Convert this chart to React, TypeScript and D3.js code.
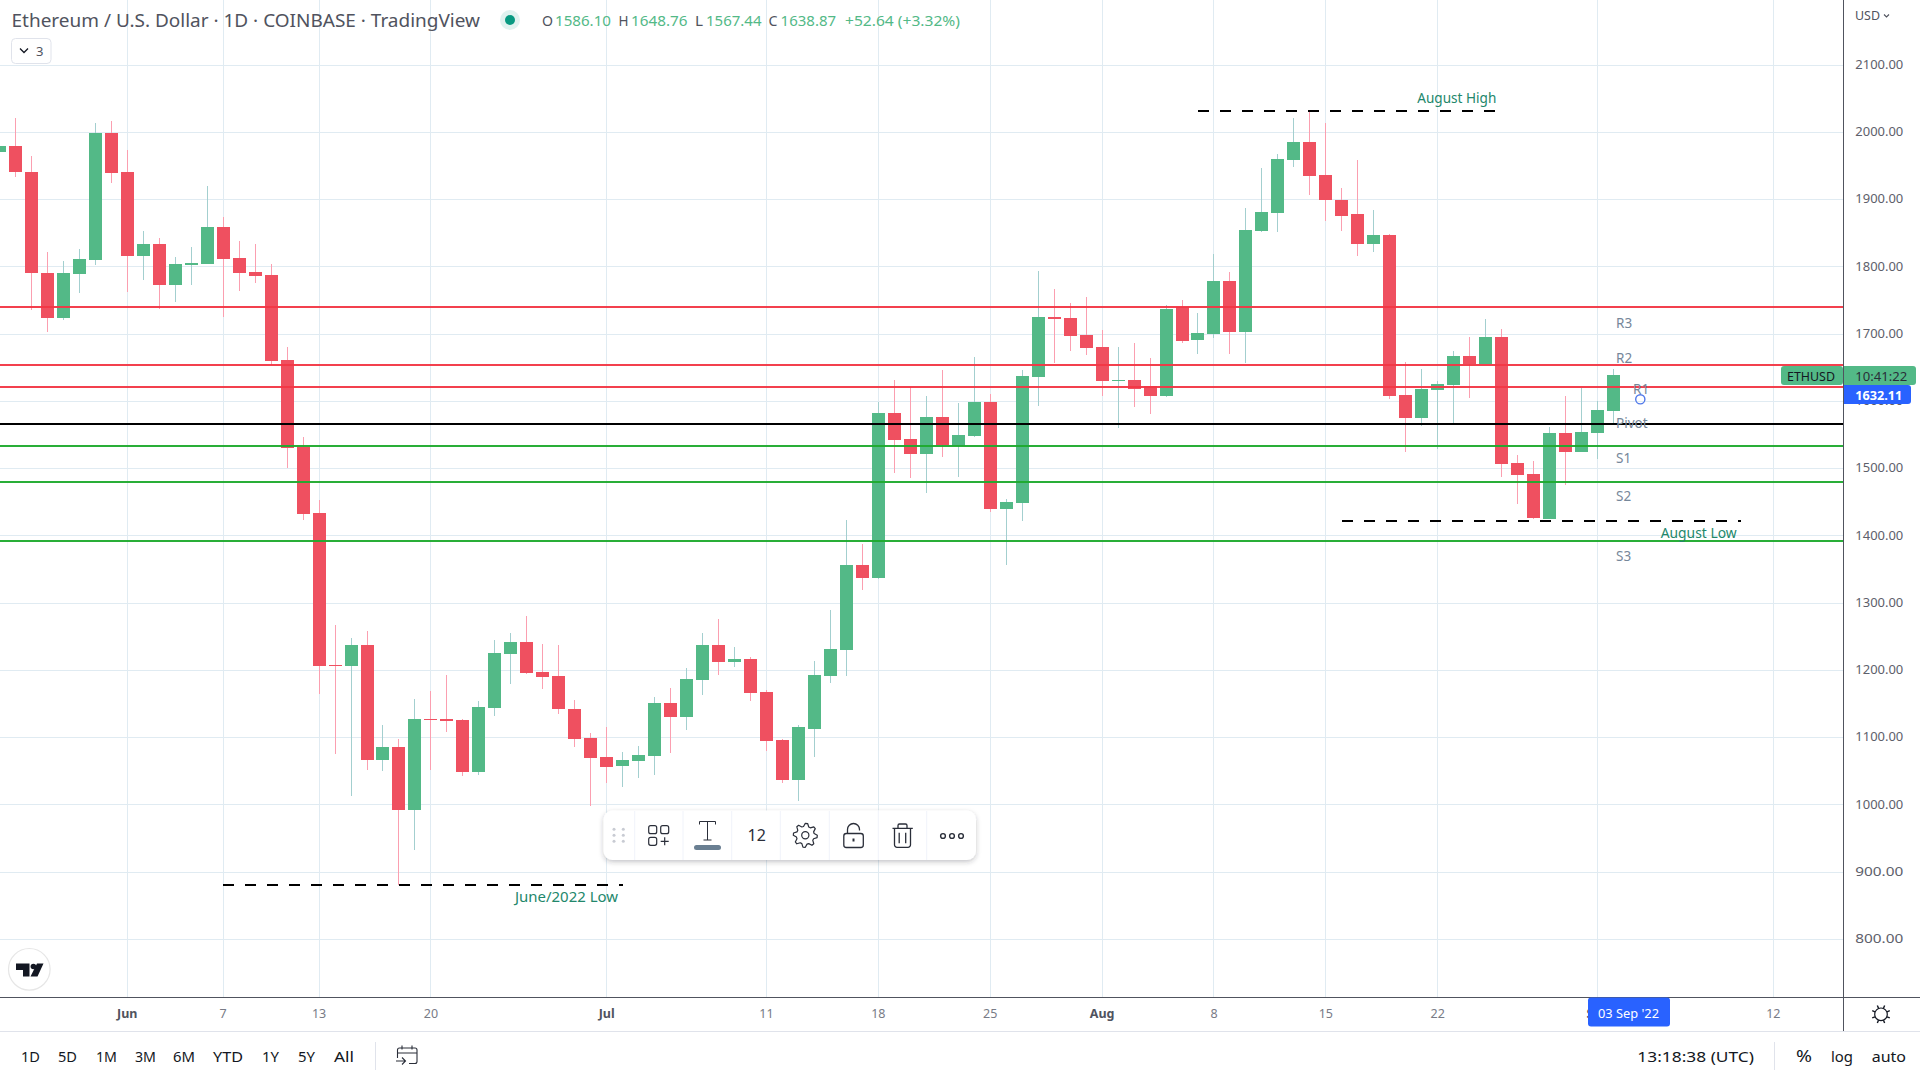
import React from "react";
import * as d3 from "d3";

const firstDay = "2022-05-24";
const opens = [1970.7,1979.6,1941.0,1790.8,1723.8,1789.3,1810.1,1999.0,1941.0,1816.0,1833.9,1772.9,1802.6,1804.1,1859.2,1813.1,1792.3,1787.8,1661.4,1532.5,1433.9,1207.8,1206.3,1237.6,1066.6,1085.9,992.2,1127.5,1127.5,1126.0,1048.7,1143.9,1224.2,1242.0,1197.4,1191.5,1142.4,1099.3,1071.0,1057.6,1065.1,1072.5,1151.3,1130.5,1185.5,1237.6,1212.3,1216.7,1167.7,1096.3,1036.9,1112.7,1191.5,1230.2,1356.6,1337.3,1582.6,1544.0,1521.7,1576.7,1533.6,1548.4,1599.0,1439.9,1448.8,1636.2,1725.4,1723.9,1698.6,1680.8,1630.2,1631.7,1622.8,1607.9,1740.3,1691.2,1700.1,1778.9,1703.0,1853.2,1880.0,1958.8,1985.6,1936.5,1899.3,1878.5,1833.9,1847.3,1609.3,1575.2,1616.8,1624.2,1667.3,1655.4,1695.6,1508.2,1491.8,1424.9,1552.8,1524.6,1552.8,1586.1];
const highs = [1985,2021.3,1964.7,1822.0,1808.6,1826.4,2013.8,2016.8,1973.7,1853.2,1842.8,1814.6,1829.4,1920.1,1874.0,1838.4,1833.9,1804.1,1680.7,1546.9,1453.2,1267.3,1248.0,1258.4,1118.6,1097.8,1157.3,1169.2,1192.9,1127.5,1154.3,1245.0,1255.4,1280.7,1239.1,1237.6,1155.8,1106.7,1115.6,1078.4,1087.4,1160.2,1173.6,1203.4,1255.4,1276.2,1234.6,1219.7,1170.7,1097.8,1118.6,1213.8,1289.7,1423.5,1387.8,1599.0,1632.0,1621.0,1607.9,1646.5,1597.5,1665.9,1610.9,1454.7,1646.6,1793.8,1767.0,1746.2,1755.1,1706.1,1680.8,1686.7,1664.4,1743.2,1750.7,1731.3,1819.1,1792.3,1887.4,1946.9,1967.8,2021.3,2033.2,2013.9,1917.2,1958.8,1884.5,1848.8,1658.4,1648.0,1630.2,1674.8,1695.6,1722.3,1707.5,1520.1,1511.2,1561.7,1607.8,1619.7,1600.4,1648.76];
const lows = [1965,1933.5,1735.7,1703.0,1720.9,1761.0,1802.6,1924.6,1762.5,1780.3,1737.2,1747.6,1772.9,1804.1,1725.3,1764.0,1775.9,1654.0,1500.8,1423.5,1164.7,1075.5,1013.0,1051.7,1050.2,881.0,932.9,1051.7,1108.2,1042.7,1044.2,1132.0,1179.6,1194.4,1172.1,1135.0,1085.9,998.2,1032.3,1026.4,1039.8,1044.2,1077.0,1111.2,1163.2,1193.0,1204.9,1154.3,1080.0,1032.4,1005.7,1071.0,1181.1,1191.5,1319.4,1335.8,1493.4,1486.0,1463.7,1517.2,1487.4,1546.9,1435.4,1356.6,1422.0,1593.0,1657.0,1674.8,1668.9,1607.9,1560.3,1591.6,1581.1,1606.4,1686.7,1670.4,1694.2,1670.4,1656.9,1851.8,1851.8,1948.4,1906.8,1868.1,1853.2,1816.1,1822.0,1603.4,1524.6,1563.3,1529.0,1567.7,1604.9,1655.4,1487.4,1447.2,1424.9,1424.9,1475.5,1524.6,1514.2,1567.44];
const closes = [1979.6,1941.0,1790.8,1723.8,1790.8,1811.6,1999.0,1939.5,1816.0,1833.9,1772.9,1804.1,1805.6,1859.2,1811.6,1790.8,1786.3,1659.9,1530.5,1432.4,1206.3,1206.3,1237.6,1066.6,1085.9,992.2,1127.5,1126.0,1124.5,1048.7,1145.4,1225.7,1242.0,1195.9,1190.0,1142.4,1097.8,1069.5,1056.2,1066.6,1074.0,1151.3,1130.5,1187.0,1237.6,1212.3,1216.7,1166.2,1094.8,1036.9,1115.7,1193.0,1231.7,1356.6,1337.3,1582.6,1542.5,1521.7,1576.7,1535.0,1549.9,1599.0,1439.9,1450.3,1637.7,1725.4,1722.4,1697.1,1679.3,1630.2,1631.7,1618.3,1607.9,1737.3,1689.7,1701.6,1778.9,1703.1,1854.7,1881.5,1960.3,1985.6,1935.0,1899.3,1875.6,1833.9,1847.3,1607.9,1575.2,1618.3,1625.7,1667.3,1655.4,1695.6,1506.7,1490.4,1426.4,1552.8,1524.6,1554.3,1587.0,1638.87];

const priceTicks = [2100,2000,1900,1800,1700,1600,1500,1400,1300,1200,1100,1000,900,800];
const timeTicks = [
  { date: "2022-06-01", label: "Jun", major: true },
  { date: "2022-06-07", label: "7", major: false },
  { date: "2022-06-13", label: "13", major: false },
  { date: "2022-06-20", label: "20", major: false },
  { date: "2022-07-01", label: "Jul", major: true },
  { date: "2022-07-11", label: "11", major: false },
  { date: "2022-07-18", label: "18", major: false },
  { date: "2022-07-25", label: "25", major: false },
  { date: "2022-08-01", label: "Aug", major: true },
  { date: "2022-08-08", label: "8", major: false },
  { date: "2022-08-15", label: "15", major: false },
  { date: "2022-08-22", label: "22", major: false },
  { date: "2022-09-01", label: "Sep", major: true },
  { date: "2022-09-12", label: "12", major: false },
];
const pivotLevels = [
  { price: 1740, color: "#f23645" },
  { price: 1654, color: "#f23645" },
  { price: 1621, color: "#f23645" },
  { price: 1566, color: "#000000" },
  { price: 1533.5, color: "#1eaa2d" },
  { price: 1480, color: "#1eaa2d" },
  { price: 1392, color: "#1eaa2d" },
];
const pivotLabels = [
  { text: "R3", x: 1616, y: 328 },
  { text: "R2", x: 1616, y: 363 },
  { text: "R1", x: 1633, y: 394 },
  { text: "Pivot", x: 1616, y: 428 },
  { text: "S1", x: 1616, y: 463 },
  { text: "S2", x: 1616, y: 501 },
  { text: "S3", x: 1616, y: 561 },
];
const dashedLevels = [
  { price: 2031.7, from: "2022-08-07", to: "2022-08-26" },
  { price: 1422.4, from: "2022-08-16", to: "2022-09-10" },
  { price: 880.7, from: "2022-06-07", to: "2022-07-02" },
];
const rangeButtons = [
  ["1D", 21, 19], ["5D", 58, 19], ["1M", 96, 21], ["3M", 135, 21], ["6M", 173, 22],
  ["YTD", 213, 30], ["1Y", 262, 17], ["5Y", 298, 17], ["All", 334, 20],
];

const FONT = "'Noto Sans', 'Open Sans', sans-serif";
const GRID = "#e0ebf2";
const UP = "#53b987";
const DOWN = "#ef5060";
const UP_WICK = "#a3cfcf";
const DOWN_WICK = "#fb9fb0";

const utc = (s: string) => new Date(s + "T00:00:00Z");
const x = d3.scaleUtc().domain([utc("2022-06-01"), utc("2022-09-12")]).range([127.3, 1773.3]);
const y = d3.scaleLinear().domain([2000, 800]).range([132.3, 939.3]);

const candles = opens.map((o, i) => ({
  date: d3.utcDay.offset(utc(firstDay), i),
  o, h: highs[i], l: lows[i], c: closes[i],
}));

function T({ x: tx, y: ty, w, size = 12, fill = "#787b86", weight = 400, anchor = "start", children }: any) {
  return (
    <text x={tx} y={ty} fontSize={size} fill={fill} fontWeight={weight} textAnchor={anchor} fontFamily={FONT}
      {...(w ? { textLength: w, lengthAdjust: "spacingAndGlyphs" } : {})}>
      {children}
    </text>
  );
}

function gear(cx: number, cy: number, rOut: number, rIn: number, teeth: number) {
  const pts: [number, number][] = [];
  for (let i = 0; i < teeth * 4; i++) {
    const a = (i / (teeth * 4)) * Math.PI * 2;
    const r = i % 4 < 2 ? rOut : rIn;
    pts.push([cx + r * Math.cos(a), cy + r * Math.sin(a)]);
  }
  return d3.line().curve(d3.curveLinearClosed)(pts) as string;
}

function Toolbar() {
  const ink = "#2a2e39";
  return (
    <g>
      <defs>
        <filter id="sh" x="-10%" y="-30%" width="120%" height="170%">
          <feDropShadow dx="0" dy="2" stdDeviation="2.5" floodColor="#2a2e39" floodOpacity="0.28" />
        </filter>
      </defs>
      <rect x={603.5} y={810.5} width={372.5} height={49.5} rx={9} fill="#fff" filter="url(#sh)" />
      {[634.7, 683, 731.7, 780.3, 829.3, 878.3, 926.7].map((v) => (
        <line key={v} x1={v} x2={v} y1={811} y2={860} stroke="#f0f3fa" />
      ))}
      {[614, 623.3].flatMap((a) => [829.3, 835.3, 841.3].map((b) => (
        <circle key={a + "-" + b} cx={a} cy={b} r={1.5} fill="#c8cbd3" />
      )))}
      <g fill="none" stroke={ink} strokeWidth={1.2}>
        <rect x={648.7} y={825.7} width={8} height={8} rx={2} />
        <rect x={660.7} y={825.7} width={8} height={8} rx={2} />
        <rect x={648.7} y={837.3} width={8} height={8} rx={2} />
        <path d="M664.7 837.3v8M660.7 841.3h8" />
        <path d="M699.5 821.5h16M707.5 821.5V840M703.5 840h8" strokeWidth={1} />
        <path d="M699.5 821.5v3M715.5 821.5v3" strokeWidth={1} />
      </g>
      <rect x={694} y={845} width={27} height={5} rx={2.5} fill="#6a7f92" />
      <T x={756.7} y={841} size={16} fill={ink} anchor="middle">12</T>
      <path d={gear(805.3, 835.3, 12, 9, 8)} fill="none" stroke={ink} strokeWidth={1.2} strokeLinejoin="round" />
      <circle cx={805.3} cy={835.3} r={3.6} fill="none" stroke={ink} strokeWidth={1.2} />
      <g fill="none" stroke={ink} strokeWidth={1.3}>
        <rect x={843.8} y={833.5} width={19.5} height={14} rx={2.5} />
        <path d="M847.5 833.5v-4a6 6 0 0 1 12 0v1" />
        <path d="M853.5 838.5v3" strokeWidth={2} />
        <path d="M892.5 828.3h20.300M894.500 828.300v16.500a2.500 2.500 0 0 0 2.500 2.500h11a2.500 2.500 0 0 0 2.500 -2.500v-16.500M898 828v-2.500a1.500 1.500 0 0 1 1.500 -1.500h6a1.500 1.500 0 0 1 1.500 1.500v2.500M899.200 832.700v10.600M905.700 832.700v10.600" />
        {[943, 952, 961].map((v) => <circle key={v} cx={v} cy={836} r={2.4} strokeWidth={1.4} />)}
      </g>
    </g>
  );
}

export default function App() {
  const w = 1920, h = 1080, axisX = 1843.5, axisY = 997.5;
  return (
    <svg width={w} height={h} viewBox={`0 0 ${w} ${h}`} style={{ position: "fixed", left: 0, top: 0, background: "#fff" }}>
      {/* grid */}
      <g shapeRendering="crispEdges" stroke={GRID}>
        {priceTicks.map((p) => {
          const v = Math.floor(y(p)) + 0.5;
          return <line key={p} x1={0} x2={axisX} y1={v} y2={v} />;
        })}
        {timeTicks.map((t) => {
          const v = Math.floor(x(utc(t.date))) + 0.5;
          return <line key={t.date} x1={v} x2={v} y1={0} y2={axisY} />;
        })}
      </g>

      {/* candles */}
      <g shapeRendering="crispEdges">
        {candles.map((c) => {
          const cx = Math.floor(x(c.date));
          const up = c.c >= c.o;
          const top = Math.round(y(Math.max(c.o, c.c)));
          const bot = Math.round(y(Math.min(c.o, c.c)));
          return (
            <g key={+c.date}>
              <rect x={cx} y={y(c.h)} width={1} height={y(c.l) - y(c.h)} fill={up ? UP_WICK : DOWN_WICK} />
              <rect x={cx - 6} y={top} width={13} height={Math.max(1, bot - top)} fill={up ? UP : DOWN} />
            </g>
          );
        })}
      </g>

      {/* pivot levels */}
      <g shapeRendering="crispEdges">
        {pivotLevels.map((l) => (
          <line key={l.price} x1={0} x2={axisX} y1={Math.round(y(l.price))} y2={Math.round(y(l.price))}
            stroke={l.color} strokeWidth={2} strokeOpacity={l.color === "#000000" ? 1 : 0.95} />
        ))}
        {dashedLevels.map((l) => (
          <line key={l.price} x1={x(utc(l.from))} x2={x(utc(l.to))} y1={Math.round(y(l.price))} y2={Math.round(y(l.price))}
            stroke="#000" strokeWidth={2} strokeDasharray="11 11" />
        ))}
      </g>

      {pivotLabels.map((l) => (
        <T key={l.text} x={l.x} y={l.y} size={13.5} fill="#76879a">{l.text}</T>
      ))}
      <circle cx={1640.3} cy={399.3} r={4.6} fill="none" stroke="#4f78ea" strokeWidth={1.4} />

      <T x={1417.3} y={103} size={14} w={79} fill="#22876b">August High</T>
      <T x={1660.7} y={538} size={14} w={76} fill="#22876b">August Low</T>
      <T x={515} y={902} size={14} w={103} fill="#22876b">June/2022 Low</T>

      {/* frame */}
      <g shapeRendering="crispEdges" stroke="#50535e">
        <line x1={axisX} x2={axisX} y1={0} y2={1031} />
        <line x1={0} x2={1920} y1={axisY} y2={axisY} />
      </g>
      <line x1={0} x2={1920} y1={1031.5} y2={1031.5} stroke="#e0e3eb" shapeRendering="crispEdges" />

      {/* price axis */}
      <T x={1855} y={20} size={12} w={25} fill="#50535e">USD</T>
      <path d="M1884 14.5l2.5 2.5 2.5 -2.5" fill="none" stroke="#50535e" strokeWidth={1.1} />
      {priceTicks.map((p) => (
        <T key={p} x={1855.3} y={y(p) + 3.8} size={13} w={48} fill="#5d606b">{p.toFixed(2)}</T>
      ))}

      {/* time axis */}
      {timeTicks.map((t) => (
        <T key={t.date} x={x(utc(t.date))} y={1018} size={12.5} anchor="middle"
          weight={t.major ? 700 : 400} fill={t.major ? "#50535e" : "#787b86"}>{t.label}</T>
      ))}
      <rect x={1588} y={997.5} width={82} height={29} rx={3} fill="#2962ff" />
      <T x={1598} y={1018} size={13} w={61} fill="#fff">03 Sep '22</T>

      {/* last price labels */}
      <rect x={1781} y={366} width={62} height={19} rx={3} fill={UP} />
      <T x={1787} y={380.5} size={13} w={48} fill="#131722">ETHUSD</T>
      <path d="M1844 366h69a3 3 0 0 1 3 3v13a3 3 0 0 1 -3 3h-69z" fill={UP} />
      <T x={1855.3} y={380.5} size={13} w={52} fill="#2a2e39">10:41:22</T>
      <path d="M1844 385h64a3 3 0 0 1 3 3v13a3 3 0 0 1 -3 3h-64z" fill="#2962ff" />
      <T x={1855.3} y={400} size={13} w={47} weight={700} fill="#fff">1632.11</T>

      {/* header */}
      <T x={11.5} y={27} size={17.5} w={468.5} fill="#50535e">Ethereum / U.S. Dollar · 1D · COINBASE · TradingView</T>
      <circle cx={510} cy={20} r={10} fill="#e0f2ef" />
      <circle cx={510} cy={20} r={5} fill="#089981" />
      <T x={542} y={26} size={14} w={11} fill="#50535e">O</T>
      <T x={555} y={26} size={14} w={56} fill={UP}>1586.10</T>
      <T x={618.5} y={26} size={14} w={10} fill="#50535e">H</T>
      <T x={631} y={26} size={14} w={56.5} fill={UP}>1648.76</T>
      <T x={695} y={26} size={14} w={8} fill="#50535e">L</T>
      <T x={706} y={26} size={14} w={55.5} fill={UP}>1567.44</T>
      <T x={768.5} y={26} size={14} w={9} fill="#50535e">C</T>
      <T x={780.6} y={26} size={14} w={55.5} fill={UP}>1638.87</T>
      <T x={845} y={26} size={14} w={115} fill={UP}>+52.64 (+3.32%)</T>
      <rect x={11.5} y={38.5} width={39.5} height={25} rx={4} fill="#fff" stroke="#e0e3eb" />
      <path d="M20 48.5l4 4 4 -4" fill="none" stroke="#131722" strokeWidth={1.3} />
      <T x={36} y={56} size={13} fill="#50535e">3</T>

      <Toolbar />

      {/* logo */}
      <circle cx={29.3} cy={969.3} r={20.8} fill="#fff" stroke="#e6e6e6" strokeWidth={1.2} />
      <path d="M16 963.5H29.5V976.5H23V970H16ZM37 963.5H43.5L37.5 976.5H30.5Z" fill="#131722" />
      <circle cx={33.4} cy={966.5} r={2.8} fill="#131722" />

      {/* bottom bar */}
      {rangeButtons.map(([label, bx, bw]) => (
        <T key={label as string} x={bx} y={1062} size={14} w={bw} fill="#131722">{label}</T>
      ))}
      <line x1={375.5} x2={375.5} y1={1042} y2={1070} stroke="#e0e3eb" shapeRendering="crispEdges" />
      <path d="M397.500 1053h19.500M397.500 1058v-8a2 2 0 0 1 2 -2h15.500a2 2 0 0 1 2 2v11.500a2 2 0 0 1 -2 2h-6M402 1045.500v4M412 1045.500v4M396 1061h9M402 1057.500l3.500 3.500 -3.500 3.500" fill="none" stroke="#2a2e39" strokeWidth={1.1} />
      <T x={1637.3} y={1062} size={15} w={116.7} fill="#131722">13:18:38 (UTC)</T>
      <line x1={1774.5} x2={1774.5} y1={1042} y2={1070} stroke="#e0e3eb" shapeRendering="crispEdges" />
      <T x={1796} y={1062} size={16} w={16} fill="#131722">%</T>
      <T x={1831} y={1062} size={14} w={22} fill="#131722">log</T>
      <T x={1871.7} y={1062} size={14} w={34.3} fill="#131722">auto</T>

      {/* settings */}
      <circle cx={1881} cy={1014.3} r={6.3} fill="none" stroke="#131722" strokeWidth={1.2} />
      <g stroke="#131722" strokeWidth={1.4}>
        {d3.range(8).map((i) => {
          const a = (i * Math.PI) / 4 + Math.PI / 8;
          return <line key={i} x1={1881 + 6.5 * Math.cos(a)} y1={1014.3 + 6.5 * Math.sin(a)} x2={1881 + 9.5 * Math.cos(a)} y2={1014.3 + 9.5 * Math.sin(a)} />;
        })}
      </g>
    </svg>
  );
}
